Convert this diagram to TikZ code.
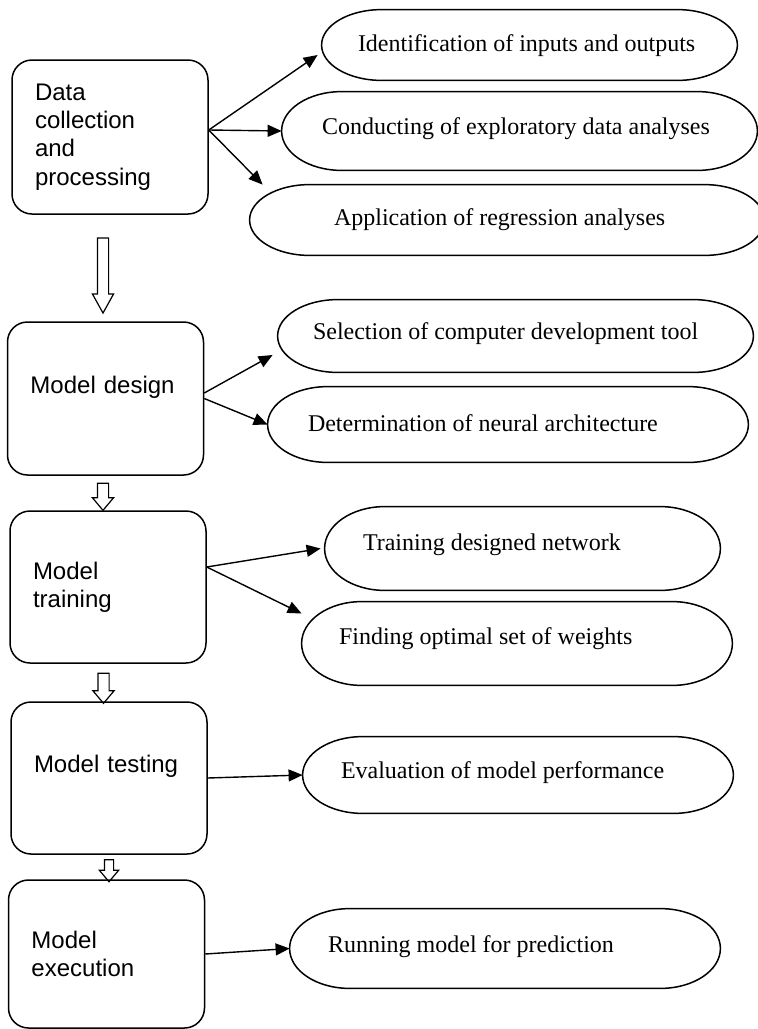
\documentclass[tikz,border=0pt]{standalone}
\usepackage{fontspec}
\setmainfont{Liberation Serif}
\newfontfamily\boxfont{Liberation Sans}
\usetikzlibrary{arrows.meta,calc,shapes.arrows}

\tikzset{
  stage/.style={draw, rounded corners=10pt, line width=0.75pt, minimum width=98pt,
    text width=75pt, inner xsep=11.5pt, align=left,
    font=\boxfont\fontsize{12}{14.2}\selectfont},
  pill/.style={inner sep=0pt},
  pilltext/.style={anchor=west, inner sep=0pt, font=\fontsize{12}{14}\selectfont},
  flow/.style={single arrow, draw, line width=0.6pt, shape border rotate=270,
    single arrow head extend=2.5pt, single arrow head indent=0pt,
    inner sep=2.5pt, single arrow tip angle=80},
  link/.style={-{Triangle[length=7pt,width=6pt]}, line width=0.7pt}
}

% outline of an oval task around a (hidden) node
\newcommand{\drawpill}[1]{%
  \draw[line width=0.75pt] let \p1=(#1.north west), \p2=(#1.south east),
      \n1={0.5*(\y1-\y2)} in
    (\x1+30pt,\y1) -- (\x2-30pt,\y1)
    arc[start angle=90, end angle=-90, x radius=30pt, y radius=\n1]
    -- (\x1+30pt,\y2)
    arc[start angle=270, end angle=90, x radius=30pt, y radius=\n1] -- cycle;}

\begin{document}
\begin{tikzpicture}[x=0.5pt, y=-0.5pt]
  \useasboundingbox (0,0) rectangle (757,1029);

  % stages
  \node[stage, minimum height=77pt] (b1) at (110,137) {Data\\collection\\and\\processing};
  \node[stage, minimum height=76.5pt] (b2) at (105.5,398.5) {Model design\\\mbox{}};
  \node[stage, minimum height=76pt] (b3) at (108,587) {Model\\training};
  \node[stage, minimum height=76pt] (b4) at (109,778) {Model testing\\\mbox{}};
  \node[stage, minimum height=74pt] (b5) at (106.5,954) {Model\\execution};

  % hollow arrows
  \node[flow, minimum height=37.5pt, single arrow tip angle=58] (a1) at (103,270.5) {};
  \node[flow, minimum height=13.5pt] (a2) at (103,493.5) {};
  \node[flow, minimum height=15pt] (a3) at (103.5,685) {};
  \node[flow, minimum height=11pt, inner sep=2pt] (a4) at (109,868) {};

  % tasks
  \node[pill, minimum width=207.5pt, minimum height=35pt] (e1) at (529.5,45) {};
  \node[pill, minimum width=237.5pt, minimum height=39pt] (e2) at (519.5,131) {};
  \node[pill, minimum width=257pt, minimum height=35pt] (e3) at (507,220) {};
  \node[pill, minimum width=237.5pt, minimum height=36pt] (e4) at (515.5,336) {};
  \node[pill, minimum width=240pt, minimum height=37.5pt] (e5) at (508,424.5) {};
  \node[pill, minimum width=197.5pt, minimum height=41.5pt] (e6) at (522.5,548.5) {};
  \node[pill, minimum width=215pt, minimum height=41.5pt] (e7) at (517,643.5) {};
  \node[pill, minimum width=215pt, minimum height=38pt] (e8) at (518,775) {};
  \node[pill, minimum width=215pt, minimum height=39.5pt] (e9) at (505,948.5) {};
  \foreach \e in {e1,e2,e3,e4,e5,e6,e7,e8,e9} {\drawpill{\e}}

  \node[pilltext] (t1) at ([shift={(18pt,-0.5pt)}]e1.west) {Identification of inputs and outputs};
  \node[pilltext] (t2) at ([shift={(20pt,1pt)}]e2.west) {Conducting of exploratory data analyses};
  \node[pilltext] (t3) at ([shift={(42pt,0pt)}]e3.west) {Application of regression analyses};
  \node[pilltext] (t4) at ([shift={(17.5pt,1pt)}]e4.west) {Selection of computer development tool};
  \node[pilltext] (t5) at ([shift={(20pt,0.5pt)}]e5.west) {Determination of neural architecture};
  \node[pilltext] (t6) at ([shift={(19pt,2pt)}]e6.west) {Training designed network};
  \node[pilltext] (t7) at ([shift={(18.5pt,2.5pt)}]e7.west) {Finding optimal set of weights};
  \node[pilltext] (t8) at ([shift={(19pt,1pt)}]e8.west) {Evaluation of model performance};
  \node[pilltext] (t9) at ([shift={(19pt,1pt)}]e9.west) {Running model for prediction};

  % links
  \draw[link] ([yshift=3.5pt]b1.east) -- ([shift={(-2pt,-5pt)}]e1.west);
  \draw[link] ([yshift=3.5pt]b1.east) -- (e2.west);
  \draw[link] ([yshift=3.5pt]b1.east) -- ([xshift=6.5pt]e3.north west);
  \draw[link] ([yshift=2.75pt]b2.east) -- ([shift={(-2.5pt,-9.5pt)}]e4.west);
  \draw[link] (b2.east) -- (e5.west);
  \draw[link] ([yshift=10pt]b3.east) -- ([xshift=-2pt]e6.west);
  \draw[link] ([yshift=10pt]b3.east) -- ([yshift=15pt]e7.west);
  \draw[link] (b4.east) -- (e8.west);
  \draw[link] (b5.east) -- (e9.west);
\end{tikzpicture}
\end{document}
